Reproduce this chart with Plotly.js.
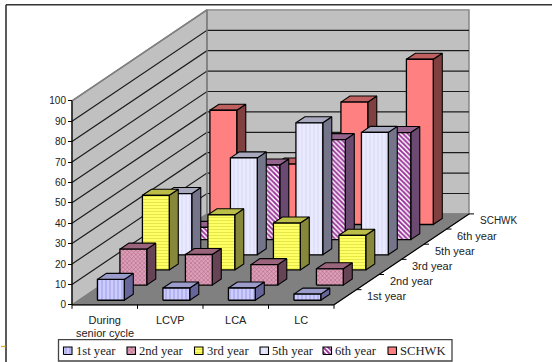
<!DOCTYPE html>
<html>
<head>
<meta charset="utf-8">
<script src="https://cdn.plot.ly/plotly-3.0.1.min.js"></script>
<style>html,body{margin:0;padding:0;background:#fff}#chart{width:552px;height:362px}</style>
</head>
<body>
<div id="chart"></div>
<script>
// Category and series values
const categories = ['During', 'LCVP', 'LCA', 'LC'];
const categorySecondLine = ['senior cycle', '', '', ''];
const seriesNames = ['1st year', '2nd year', '3rd year', '5th year', '6th year', 'SCHWK'];
const firstYear = [10.2, 6, 6, 3];
const secondYear = [17.6, 15, 10, 8];
const thirdYear = [36.6, 27, 23, 17];
const fifthYear = [30, 47.5, 64.7, 60];
const sixthYear = [6, 36.6, 49, 52.5];
const schwk = [56, 29.6, 60, 81];
const valueTicks = [0, 10, 20, 30, 40, 50, 60, 70, 80, 90, 100];

const seriesValues = [firstYear, secondYear, thirdYear, fifthYear, sixthYear, schwk];

// Per-series face styling: pattern plus the shaded side and top tones
const seriesStyles = [
  {face: '#ccccff', fg: '#a4a4e6', shape: '|', size: 4, solidity: 0.3, side: '#66669a', top: '#9c9ccc'},
  {face: '#dda0b8', fg: '#a85a7c', shape: 'x', size: 3, solidity: 0.3, side: '#664455', top: '#99647c'},
  {face: '#ffff66', fg: '#e6e648', shape: '-', size: 3, solidity: 0.35, side: '#88883a', top: '#bcbc48'},
  {face: '#e9e9ff', fg: '#dcdcf8', shape: '|', size: 4, solidity: 0.3, side: '#74748a', top: '#a8a8bf'},
  {face: '#ffffff', fg: '#993399', shape: '\\', size: 3.4, solidity: 0.55, side: '#6a4a70', top: '#94648e'},
  {face: '#ff8080', fg: '#ff8080', shape: '', size: 4, solidity: 0.3, side: '#804040', top: '#bf6060'}
];

// Oblique projection of (category, depth, value) onto the plot's x/y axes
const W = 552, H = 362;
const originPxX = 72, originPxY = 304.8, unitPxX = 65.5, unitPxY = 2.04;
const depthPxX = 22.5, depthPxY = 15.15;
const shearX = depthPxX / unitPxX, shearY = depthPxY / unitPxY;
const projX = (u, v) => u + v * shearX;
const projY = (z, v) => z + v * shearY;
const pxToX = px => (px - originPxX) / unitPxX;
const pxToY = py => (originPxY - py) / unitPxY;
const depthCount = seriesNames.length, catCount = categories.length;

const traces = [];
function poly(points, fill, opts) {
  opts = opts || {};
  const t = {
    type: 'scatter', mode: 'lines', hoverinfo: 'skip', showlegend: false,
    x: points.map(p => projX(p[0], p[1])),
    y: points.map(p => projY(p[2], p[1])),
    line: {color: opts.line || '#000', width: opts.width === undefined ? 1.1 : opts.width}
  };
  if (fill) { t.fill = 'toself'; t.fillcolor = fill; }
  if (opts.pattern) t.fillpattern = opts.pattern;
  traces.push(t);
}
const line3d = (a, b, color, width) => poly([a, b], null, {line: color, width: width});

// Walls and floor
const maxZ = valueTicks[valueTicks.length - 1];
poly([[0,0,0],[0,depthCount,0],[0,depthCount,maxZ],[0,0,maxZ],[0,0,0]], '#c0c0c0', {line: '#808080', width: 1.4});
poly([[0,depthCount,0],[catCount,depthCount,0],[catCount,depthCount,maxZ],[0,depthCount,maxZ],[0,depthCount,0]], '#c0c0c0', {line: '#808080', width: 1.4});
poly([[0,0,0],[catCount,0,0],[catCount,depthCount,0],[0,depthCount,0],[0,0,0]], '#808080', {line: '#808080', width: 1});

// Gridlines across both walls
valueTicks.slice(1, -1).forEach(z => {
  poly([[0,0,z],[0,depthCount,z],[catCount,depthCount,z]], null, {line: '#1c1c1c', width: 1.2});
});
poly([[0,depthCount,0],[0,depthCount,maxZ]], null, {line: '#808080', width: 1.4});
poly([[0,depthCount,maxZ],[0,0,maxZ]], null, {line: '#808080', width: 1.4});

// Axis lines and tick marks on the floor edges
line3d([0,0,0],[0,0,maxZ], '#000', 1.2);
line3d([0,0,0],[catCount,0,0], '#000', 1.2);
line3d([catCount,0,0],[catCount,depthCount,0], '#000', 1.2);
for (let i = 0; i <= catCount; i++) {
  traces.push({type:'scatter', mode:'lines', hoverinfo:'skip', showlegend:false,
    x:[projX(i,0), projX(i,0)], y:[0, -4/unitPxY], line:{color:'#000', width:1}});
}
for (let k = 1; k <= depthCount; k++) {
  traces.push({type:'scatter', mode:'lines', hoverinfo:'skip', showlegend:false,
    x:[projX(catCount,k), projX(catCount,k) + 5/unitPxX], y:[projY(0,k), projY(0,k)], line:{color:'#000', width:1}});
}

// Bars, painted back to front
const u0 = 0.285, u1 = 0.695, v0 = 0.3, v1 = 0.7;
for (let s = depthCount - 1; s >= 0; s--) {
  const st = seriesStyles[s];
  const pat = st.shape ? {shape: st.shape, bgcolor: st.face, fgcolor: st.fg, size: st.size, solidity: st.solidity} : null;
  seriesValues[s].forEach((val, c) => {
    const a = c + u0, b = c + u1, f = s + v0, g = s + v1;
    poly([[b,f,0],[b,g,0],[b,g,val],[b,f,val],[b,f,0]], st.side);
    poly([[a,f,val],[b,f,val],[b,g,val],[a,g,val],[a,f,val]], st.top);
    poly([[a,f,0],[b,f,0],[b,f,val],[a,f,val],[a,f,0]], st.face, {pattern: pat, width: 1.3});
  });
}

// Legend swatches sit at fixed page positions, converted to axis units
const swatchLeft = [63.5, 127, 194.5, 260, 323, 388];
const labelLeft = [75, 138, 205.5, 270.5, 334, 399];
const swatchTop = 347, swatchBottom = 354.5, swatchSize = 8.5;
swatchLeft.forEach((px, i) => {
  const st = seriesStyles[i];
  const xs = [px, px + swatchSize, px + swatchSize, px, px].map(pxToX);
  const ys = [swatchBottom, swatchBottom, swatchTop, swatchTop, swatchBottom].map(pxToY);
  const t = {type:'scatter', mode:'lines', hoverinfo:'skip', showlegend:false, x:xs, y:ys,
    fill:'toself', fillcolor:st.face, line:{color:'#000', width:1.1}};
  if (st.shape) t.fillpattern = {shape: st.shape, bgcolor: st.face, fgcolor: st.fg, size: st.size, solidity: st.solidity};
  traces.push(t);
});

const sansFont = {family: 'Liberation Sans, Arial, sans-serif', size: 10, color: '#222'};
const wideSansFont = {family: 'Liberation Sans, Arial, sans-serif', size: 11, color: '#222'};
const serifFont = {family: 'Liberation Serif, Times New Roman, serif', size: 12.6, color: '#222'};

const annotations = [];
categorySecondLine.forEach((txt, i) => {
  if (txt) annotations.push({x: i + 0.5, y: pxToY(332.7), xref:'x', yref:'y', text: txt, showarrow:false,
    xanchor:'center', yanchor:'middle', font: wideSansFont});
});
seriesNames.forEach((name, k) => {
  annotations.push({x: projX(catCount, k + 0.5), y: projY(0, k + 0.5), xref:'x', yref:'y', text: name,
    showarrow:false, xanchor:'left', yanchor:'middle', xshift:20, yshift:1,
    font: name === 'SCHWK' ? sansFont : wideSansFont});
  annotations.push({x: pxToX(labelLeft[k]), y: pxToY(350.5), xref:'x', yref:'y', text: name,
    showarrow:false, xanchor:'left', yanchor:'middle', font: serifFont, borderpad:0});
});

const layout = {
  width: W, height: H,
  margin: {l:0, r:0, t:0, b:0},
  paper_bgcolor: '#fff', plot_bgcolor: '#fff',
  showlegend: false,
  xaxis: {
    range: [pxToX(0), pxToX(W)], anchor: 'free', position: (H - originPxY) / H,
    tickmode: 'array', tickvals: categories.map((_, i) => i + 0.5), ticktext: categories,
    ticks: 'outside', ticklen: 5, tickcolor: 'rgba(0,0,0,0)', showgrid: false, zeroline: false, showline: false,
    tickfont: wideSansFont, fixedrange: true
  },
  yaxis: {
    range: [pxToY(H), pxToY(0)], anchor: 'free', position: originPxX / W,
    tickmode: 'array', tickvals: valueTicks, ticktext: valueTicks.map(String),
    ticks: 'outside', ticklen: 4, tickcolor: '#000', tickwidth: 1, showgrid: false, zeroline: false, showline: false,
    tickfont: sansFont, fixedrange: true
  },
  annotations: annotations,
  shapes: [
    // Page frame on the top and left, and the small gold mark beside it
    {type:'line', xref:'paper', yref:'paper', x0:6/W, x1:6/W, y0:0, y1:1-4.7/H, line:{color:'#333', width:1.6}},
    {type:'line', xref:'paper', yref:'paper', x0:6/W, x1:1, y0:1-4.7/H, y1:1-4.7/H, line:{color:'#333', width:1.6}},
    {type:'line', xref:'paper', yref:'paper', x0:1/W, x1:5.5/W, y0:1-346.5/H, y1:1-346.5/H, line:{color:'#e0b030', width:1.4}},
    // Legend box
    {type:'rect', xref:'paper', yref:'paper', x0:58.5/W, x1:452/W, y0:1-361/H, y1:1-339.7/H, line:{color:'#444', width:1.3}}
  ]
};

Plotly.newPlot('chart', traces, layout, {staticPlot: true, displayModeBar: false});
</script>
</body>
</html>
